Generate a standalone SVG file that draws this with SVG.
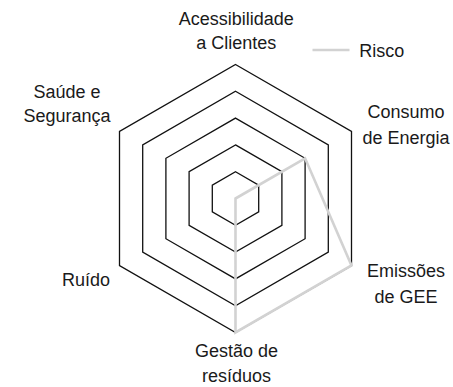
<svg xmlns="http://www.w3.org/2000/svg" width="453" height="387" viewBox="0 0 453 387">
<style>
.ring{fill:none;stroke:#111;stroke-width:1.3;stroke-linejoin:miter}
.risk{fill:none;stroke:#d2d2d2;stroke-width:2.6;stroke-linejoin:miter}
text{font-family:"Liberation Sans",Arial,sans-serif;font-size:18px;fill:#1a1a1a;text-anchor:middle}
</style>
<rect width="453" height="387" fill="#fff"/>
<g id="grid">
<polygon class="ring" points="235.5,171.7 258.7,185.1 258.7,211.9 235.5,225.3 212.3,211.9 212.3,185.1"/>
<polygon class="ring" points="235.5,144.9 281.9,171.7 281.9,225.3 235.5,252.1 189.1,225.3 189.1,171.7"/>
<polygon class="ring" points="235.5,118.1 305.1,158.3 305.1,238.7 235.5,278.9 165.9,238.7 165.9,158.3"/>
<polygon class="ring" points="235.5,91.3 328.3,144.9 328.3,252.1 235.5,305.7 142.7,252.1 142.7,144.9"/>
<polygon class="ring" points="235.5,64.5 351.5,131.5 351.5,265.5 235.5,332.5 119.5,265.5 119.5,131.5"/>
</g>
<g id="connectors">
<polygon class="risk" points="235.5,198.5 305.1,158.3 351.5,265.5 235.5,332.5"/>
</g>
<g id="legend">
<line x1="312.5" y1="50" x2="349.5" y2="50" stroke="#d2d2d2" stroke-width="2.6"/>
<text x="359.3" y="56.7" style="text-anchor:start">Risco</text>
</g>
<g id="label-acessibilidade"><text x="236.3" y="25">Acessibilidade</text><text x="236.3" y="49.3">a Clientes</text></g>
<g id="label-consumo"><text x="406" y="118.3">Consumo</text><text x="406" y="144">de Energia</text></g>
<g id="label-emissoes"><text x="406" y="276.7">Emissões</text><text x="406" y="303">de GEE</text></g>
<g id="label-gestao"><text x="236.5" y="357.3">Gestão de</text><text x="236.5" y="381.5">resíduos</text></g>
<g id="label-ruido"><text x="86" y="286">Ruído</text></g>
<g id="label-saude"><text x="67" y="98">Saúde e</text><text x="67" y="121.7">Segurança</text></g>
</svg>
